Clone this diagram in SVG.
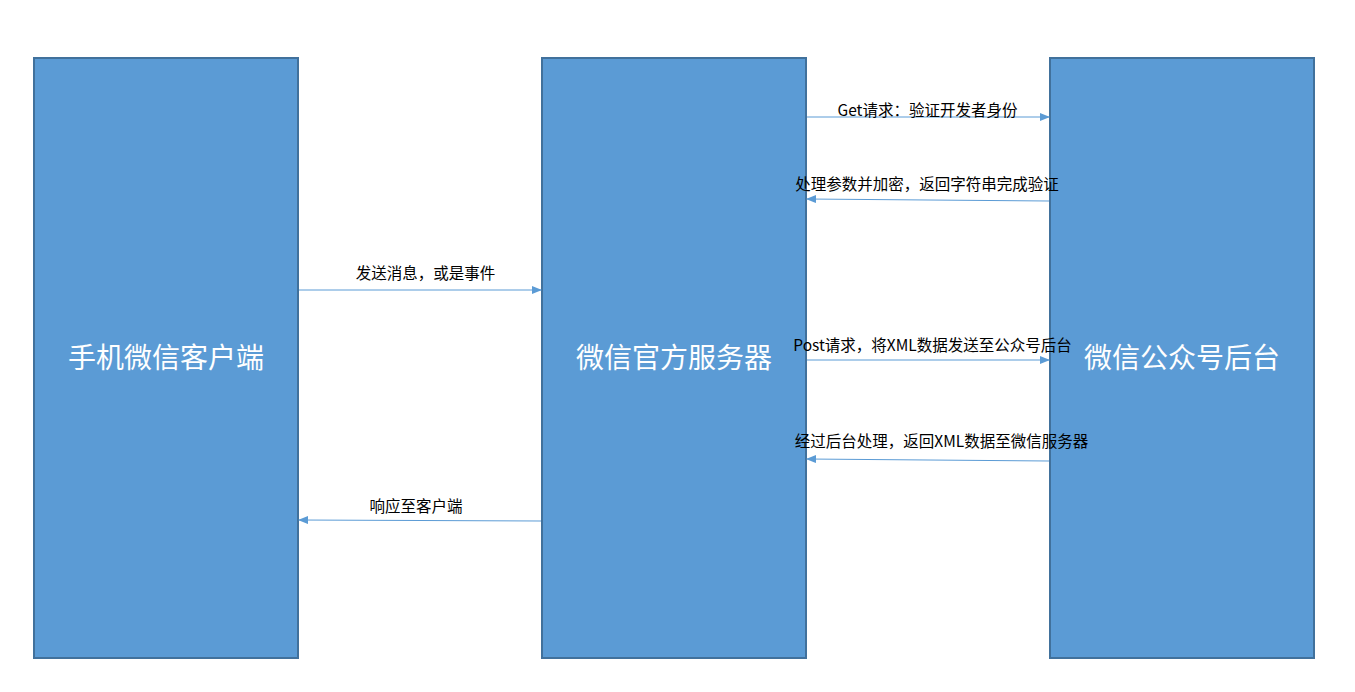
<svg xmlns="http://www.w3.org/2000/svg" width="1355" height="692" viewBox="0 0 1355 692">
<style>
.box{fill:#5B9BD5;stroke:#41719C;stroke-width:2}
.big{font-family:"Noto Sans CJK SC","Microsoft YaHei",sans-serif;font-size:28px;fill:#fff;text-anchor:middle}
.lbl{font-family:"Noto Sans CJK SC","Microsoft YaHei",sans-serif;font-size:15.5px;fill:#000;text-anchor:middle}
.ln{stroke:#5B9BD5;stroke-width:1;fill:none;marker-end:url(#ah)}
</style>
<defs>
<marker id="ah" markerWidth="10" markerHeight="8" refX="9" refY="4" orient="auto" markerUnits="userSpaceOnUse">
<path d="M0,0 L10,4 L0,8 Z" fill="#5B9BD5"/>
</marker>
</defs>
<rect width="1355" height="692" fill="#fff"/>
<g id="client"><rect class="box" x="34" y="58" width="264" height="600"/><text class="big" x="166" y="368">手机微信客户端</text></g>
<g id="server"><rect class="box" x="542" y="58" width="264" height="600"/><text class="big" x="674" y="368">微信官方服务器</text></g>
<g id="backend"><rect class="box" x="1050" y="58" width="264" height="600"/><text class="big" x="1182" y="368">微信公众号后台</text></g>
<g id="connectors">
<path class="ln" d="M807 117 L1049 117"/>
<text class="lbl" x="927.5" y="116">Get请求：验证开发者身份</text>
<path class="ln" d="M1049 201 L807 199"/>
<text class="lbl" x="927" y="190">处理参数并加密，返回字符串完成验证</text>
<path class="ln" d="M299 290 L541 290"/>
<text class="lbl" x="425.5" y="279">发送消息，或是事件</text>
<path class="ln" d="M807 360 L1049 360"/>
<text class="lbl" x="932.5" y="351">Post请求，将XML数据发送至公众号后台</text>
<path class="ln" d="M1049 461 L807 459"/>
<text class="lbl" x="941.5" y="447">经过后台处理，返回XML数据至微信服务器</text>
<path class="ln" d="M541 521 L299 520"/>
<text class="lbl" x="416" y="512">响应至客户端</text>
</g>
</svg>
